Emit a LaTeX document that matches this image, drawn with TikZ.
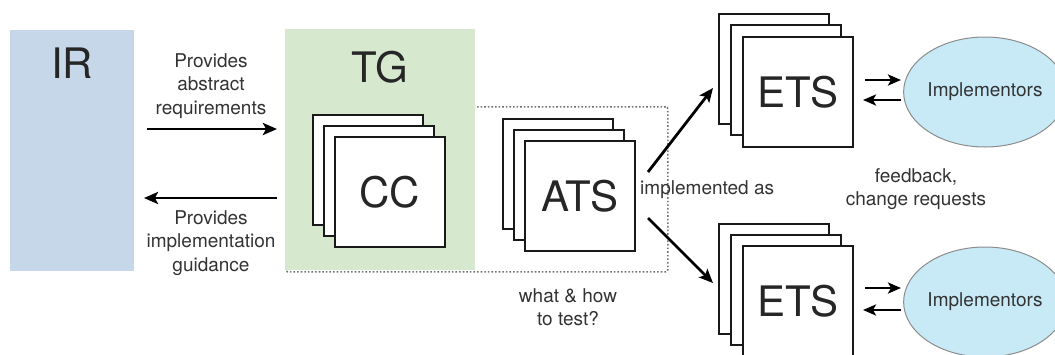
\documentclass[tikz,border=0pt]{standalone}
\usepackage{fontspec}
\setmainfont{TeX Gyre Heros}
\usetikzlibrary{arrows.meta,shapes.geometric}
\definecolor{irblue}{HTML}{C6D7EA}
\definecolor{tggreen}{HTML}{D6E9CF}
\definecolor{implfill}{HTML}{C8EAF7}
\definecolor{inkgray}{HTML}{333333}
\tikzset{
  panel/.style={anchor=north west, inner sep=0pt},
  sheet/.style={draw=black!90, fill=white, line width=1.8pt, minimum width=110pt,
    minimum height=110pt, inner sep=0pt, anchor=north west},
  bigtext/.style={font=\fontsize{42}{48}\selectfont, text=black!85},
  label/.style={font=\fontsize{19}{23.5}\selectfont, text=inkgray, align=center, inner sep=0pt},
  flow/.style={line width=2.8pt, -{Stealth[length=14pt,width=12pt,inset=3pt]}},
  swap/.style={line width=2.6pt, -{Stealth[length=13pt,width=11pt,inset=3pt]}},
  actor/.style={ellipse, draw=black!45, line width=1pt, fill=implfill,
    minimum width=146pt, minimum height=110pt, inner sep=0pt,
    font=\fontsize{19}{23}\selectfont, text=inkgray},
}
\begin{document}
\begin{tikzpicture}[x=1pt,y=-1pt]
\useasboundingbox (0,0) rectangle (1055,354);

% dotted frame around the abstract test suites
\node[panel, draw=black!55, dotted, line width=1.6pt, rounded corners=2pt,
      minimum width=382pt, minimum height=165pt] (frame) at (285,106) {};

% IR and TG panels
\node[panel, fill=irblue, minimum width=124pt, minimum height=241pt] (IR) at (10,30) {};
\node[panel, fill=tggreen, minimum width=190pt, minimum height=241pt] (TG) at (285,29) {};
\node[bigtext] (IRt) at (72,63) {IR};
\node[bigtext] (TGt) at (380,67) {TG};

% CC stack
\node[sheet] (cc1) at (312,114) {};
\node[sheet] (cc2) at (323,125) {};
\node[sheet] (cc3) at (334,136) {};
\node[bigtext] (CC) at (cc3.center) {CC};

% ATS stack
\node[sheet] (ats1) at (502,118) {};
\node[sheet] (ats2) at (513,129) {};
\node[sheet] (ats3) at (524,140) {};
\node[bigtext] (ATS) at (ats3.center) {ATS};

% ETS stacks
\node[sheet] (etsA1) at (718,13) {};
\node[sheet] (etsA2) at (730,24) {};
\node[sheet] (etsA3) at (742,36) {};
\node[bigtext] (ETSa) at (etsA3.center) {ETS};

\node[sheet] (etsB1) at (718,223) {};
\node[sheet] (etsB2) at (730,234) {};
\node[sheet] (etsB3) at (742,245) {};
\node[bigtext] (ETSb) at (etsB3.center) {ETS};

% implementors
\node[actor] (implA) at (985,92) {Implementors};
\node[actor] (implB) at (985,302) {Implementors};

% labels
\node[label] (req) at (211,86) {Provides\\abstract\\requirements};
\node[label] (guide) at (211,243) {Provides\\implementation\\guidance};
\node[label] (what) at (568,307) {what \& how\\to test?};
\node[label, anchor=west] (impl) at (640,190) {implemented as};
\node[label] (fb) at (916,189) {feedback,\\change requests};

% IR <-> TG
\coordinate (reqS) at (147,129);
\coordinate (reqE) at (277,129);
\coordinate (guiS) at (277,198);
\coordinate (guiE) at (144,198);
\draw[flow] (reqS) -- (reqE);
\draw[flow] (guiS) -- (guiE);

% ATS implemented as ETS
\coordinate (upS) at (648,172);
\coordinate (upE) at (713,88);
\coordinate (dnS) at (648,218);
\coordinate (dnE) at (713,283);
\draw[flow] (upS) -- (upE);
\draw[flow] (dnS) -- (dnE);

% ETS <-> implementors
\coordinate (a1) at (865,80);
\coordinate (a2) at (901,80);
\coordinate (a3) at (901,100);
\coordinate (a4) at (863,100);
\draw[swap] (a1) -- (a2);
\draw[swap] (a3) -- (a4);
\coordinate (b1) at (865,288);
\coordinate (b2) at (901,288);
\coordinate (b3) at (901,310);
\coordinate (b4) at (863,310);
\draw[swap] (b1) -- (b2);
\draw[swap] (b3) -- (b4);
\end{tikzpicture}
\end{document}
